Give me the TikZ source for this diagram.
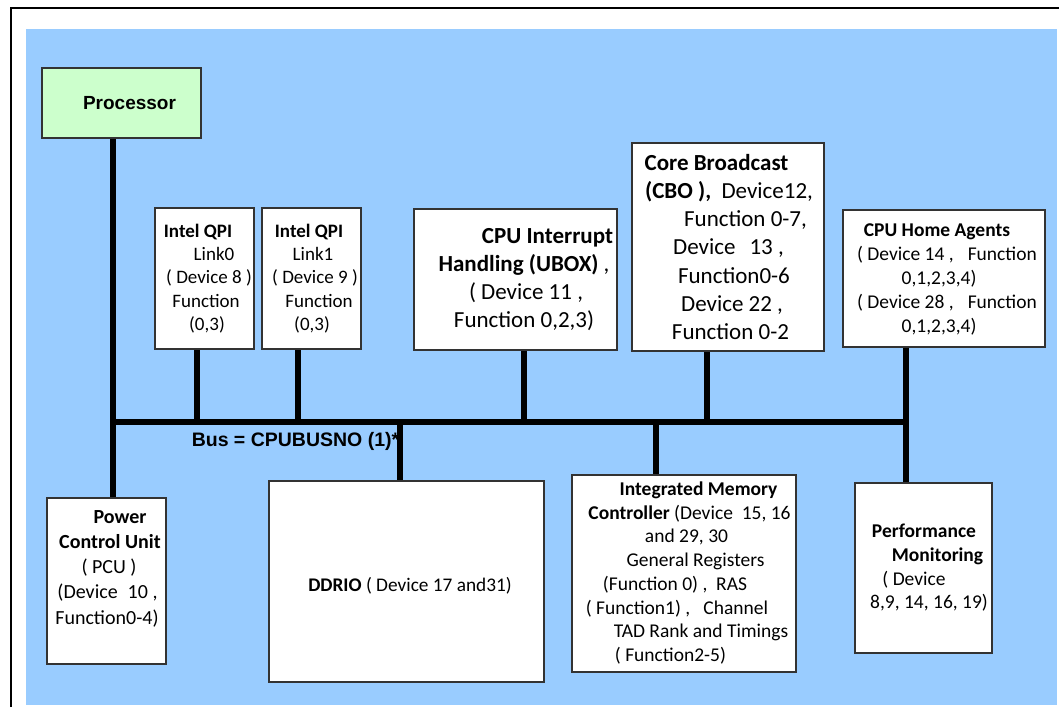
\documentclass[tikz,border=0pt]{standalone}
\usepackage{fontspec}
\setmainfont{Carlito}
\newfontfamily\arialf{Liberation Sans}
\definecolor{bgblue}{HTML}{99CCFF}
\definecolor{procgreen}{HTML}{CCFFCC}
\pgfdeclarelayer{bg}
\pgfdeclarelayer{wires}
\pgfsetlayers{bg,wires,main}
\newcommand\Ln[2]{\hbox to 0pt{\hss\hskip#1pt\hskip#1pt\relax #2\hss}}
\begin{document}
\begin{tikzpicture}[x=1pt,y=-1pt,
  box/.style={draw=black!80, line width=1.3pt, fill=white, inner sep=0pt},
  txt/.style={align=center, inner sep=0pt, text=black},
  wire/.style={draw=black, line width=5.5pt, line cap=round},
  frame/.style={draw=black, line width=2.5pt}]
\useasboundingbox (0,0) rectangle (1059,707);

% outer frame and background
\coordinate (frB) at (11,707);
\coordinate (frT) at (1059,8);
\draw[frame] (frB) |- (frT);
\begin{pgfonlayer}{bg}
\fill[bgblue] (26,29) rectangle (1057,705);
\end{pgfonlayer}

% boxes
\node[box, fill=procgreen, minimum width=159, minimum height=70] (proc) at (121.5,103) {};
\node[box, minimum width=99, minimum height=141] (qpi0) at (204.5,278.5) {};
\node[box, minimum width=99, minimum height=141] (qpi1) at (311.5,278.5) {};
\node[box, minimum width=203, minimum height=141] (ubox) at (515.5,279.5) {};
\node[box, minimum width=192, minimum height=208] (cbo) at (728,247) {};
\node[box, minimum width=202, minimum height=137] (home) at (944,278.5) {};
\node[box, minimum width=119, minimum height=166] (pcu) at (106.5,581) {};
\node[box, minimum width=275, minimum height=201] (ddrio) at (406.5,581.5) {};
\node[box, minimum width=224, minimum height=197] (imc) at (684,573.5) {};
\node[box, minimum width=137, minimum height=170] (perf) at (923.5,568) {};

% texts
\node[txt, font=\arialf\bfseries\fontsize{19}{23}\selectfont] (proct) at (129.5,103) {Processor};

\node[txt, font=\fontsize{19}{23.25}\selectfont] (qpi0t) at (204.5,278.5)
 {\Ln{-6.5}{\textbf{Intel QPI}}\\ \Ln{9.5}{Link0}\\ \Ln{4.5}{( Device 8 )}\\ \Ln{1.5}{Function}\\ \Ln{2.5}{(0,3)}};
\node[txt, font=\fontsize{19}{23.25}\selectfont] (qpi1t) at (311.5,278.5)
 {\Ln{-2.5}{\textbf{Intel QPI}}\\ \Ln{1.5}{Link1}\\ \Ln{3.5}{( Device 9 )}\\ \Ln{7.5}{Function}\\ \Ln{0.5}{(0,3)}};
\node[txt, font=\fontsize{23}{28}\selectfont] (uboxt) at (515.5,280)
 {\Ln{32}{\textbf{CPU Interrupt}}\\ \Ln{8.5}{\textbf{Handling (UBOX)} ,}\\ \Ln{10.5}{( Device 11 ,}\\ \Ln{8.5}{Function 0,2,3)}};
\node[txt, font=\fontsize{23}{28.3}\selectfont] (cbot) at (728,247)
 {\Ln{-11.5}{\textbf{Core Broadcast}}\\ \Ln{1}{\textbf{(CBO ),}\ \ Device12,}\\ \Ln{17.5}{Function 0-7,}\\ \Ln{0.5}{Device\hspace{14pt}13 ,}\\ \Ln{6}{Function0-6}\\ \Ln{4}{Device 22 ,}\\ \Ln{2.5}{Function 0-2}};
\node[txt, font=\fontsize{19.5}{24}\selectfont] (homet) at (944,279)
 {\Ln{-7}{\textbf{CPU Home Agents}}\\ \Ln{3}{( Device 14 ,\hspace{14pt}Function}\\ \Ln{-5}{0,1,2,3,4)}\\ \Ln{3}{( Device 28 ,\hspace{14pt}Function}\\ \Ln{-5}{0,1,2,3,4)}};
\node[txt, font=\fontsize{20}{25.25}\selectfont] (pcut) at (106.5,568.5)
 {\Ln{13.5}{\textbf{Power}}\\ \Ln{3.5}{\textbf{Control Unit}}\\ \Ln{2.5}{( PCU )}\\ \Ln{1}{(Device\hspace{10pt}10 ,}\\ \Ln{0.5}{Function0-4)}};
\node[txt, font=\fontsize{19.3}{23}\selectfont] (ddriot) at (410,586)
 {\textbf{DDRIO} ( Device 17 and31)};
\node[txt, font=\fontsize{19.5}{23.7}\selectfont] (imct) at (684,573)
 {\Ln{14.5}{\textbf{Integrated Memory}}\\ \Ln{5.5}{\textbf{Controller} (Device\ \ 15, 16}\\ \Ln{2.5}{and 29, 30}\\ \Ln{11.5}{General Registers}\\ \Ln{-9}{(Function 0) ,\ \ RAS}\\ \Ln{-7}{( Function1) ,\ \ \ Channel}\\ \Ln{17}{TAD Rank and Timings}\\ \Ln{-13.5}{( Function2-5)}};
\node[txt, font=\fontsize{19.5}{23.7}\selectfont] (perft) at (923.5,568)
 {\Ln{0.5}{\textbf{Performance}}\\ \Ln{14}{\textbf{Monitoring}}\\ \Ln{-9.5}{( Device}\\ \Ln{5.5}{8,9, 14, 16, 19)}};
\node[txt, font=\arialf\bfseries\fontsize{19.5}{23}\selectfont] (busl) at (295.5,441) {Bus = CPUBUSNO (1)*};

% bus coordinates
\coordinate (busL) at (113,422);
\coordinate (busR) at (906,422);
\coordinate (t1) at (197,422);
\coordinate (t2) at (298,422);
\coordinate (t3) at (524,422);
\coordinate (t4) at (707,422);
\coordinate (t5) at (400,422);
\coordinate (t6) at (656,422);

\begin{pgfonlayer}{wires}
\draw[wire] (proc.south -| busL) -- (pcu.north -| busL);
\draw[wire] (busL) -- (busR);
\draw[wire] (qpi0.south -| t1) -- (t1);
\draw[wire] (qpi1.south -| t2) -- (t2);
\draw[wire] (ubox.south -| t3) -- (t3);
\draw[wire] (cbo.south -| t4) -- (t4);
\draw[wire] (t5) -- (ddrio.north -| t5);
\draw[wire] (t6) -- (imc.north -| t6);
\draw[wire] (home.south -| busR) -- (perf.north -| busR);
\end{pgfonlayer}
\end{tikzpicture}
\end{document}
